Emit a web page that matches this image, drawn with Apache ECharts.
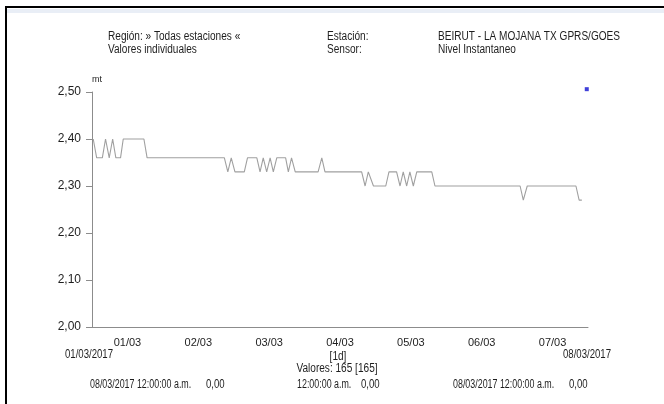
<!DOCTYPE html>
<html>
<head>
<meta charset="utf-8">
<script src="https://cdn.jsdelivr.net/npm/echarts@6/dist/echarts.min.js"></script>
<style>
    html, body {
        margin: 0;
        padding: 0;
        background: #fff;
    }
    .chart-canvas {
        width: 664px;
        height: 404px;
    }
</style>
</head>
<body>
<div id="chart" class="chart-canvas"></div>
<script>
// nivel instantaneo, breakpoints
const times = [
    '2017-03-01 00:25', '2017-03-01 01:35', '2017-03-01 03:30', '2017-03-01 04:35',
    '2017-03-01 05:50', '2017-03-01 07:00', '2017-03-01 08:05', '2017-03-01 09:40',
    '2017-03-01 10:35', '2017-03-01 17:35', '2017-03-01 18:40',
    '2017-03-02 20:50', '2017-03-02 22:00', '2017-03-02 23:10',
    '2017-03-03 00:25', '2017-03-03 03:35', '2017-03-03 04:40', '2017-03-03 07:50',
    '2017-03-03 08:55', '2017-03-03 10:00', '2017-03-03 11:10', '2017-03-03 12:20',
    '2017-03-03 13:25', '2017-03-03 14:35', '2017-03-03 17:35', '2017-03-03 18:30',
    '2017-03-03 19:35', '2017-03-03 20:50',
    '2017-03-04 04:35', '2017-03-04 05:50', '2017-03-04 06:55', '2017-03-04 19:20',
    '2017-03-04 20:30', '2017-03-04 21:35', '2017-03-04 23:20',
    '2017-03-05 03:30', '2017-03-05 04:35', '2017-03-05 07:10', '2017-03-05 08:20',
    '2017-03-05 09:25', '2017-03-05 10:35', '2017-03-05 11:40', '2017-03-05 12:50',
    '2017-03-05 14:00', '2017-03-05 19:05', '2017-03-05 20:10',
    '2017-03-07 01:00', '2017-03-07 02:05', '2017-03-07 03:25', '2017-03-07 19:55',
    '2017-03-07 21:00', '2017-03-07 21:55',
]
const values = [
    2.40, 2.36, 2.36, 2.40,
    2.36, 2.40, 2.36, 2.36,
    2.40, 2.40, 2.36,
    2.36, 2.33, 2.36,
    2.33, 2.33, 2.36, 2.36,
    2.33, 2.36, 2.33, 2.36,
    2.33, 2.36, 2.36, 2.33,
    2.36, 2.33,
    2.33, 2.36, 2.33, 2.33,
    2.30, 2.33, 2.30,
    2.30, 2.33, 2.33, 2.30,
    2.33, 2.30, 2.33, 2.30,
    2.33, 2.33, 2.30,
    2.30, 2.27, 2.30, 2.30,
    2.27, 2.27,
]
const markTime = '2017-03-07 23:35'
const markValue = 2.506

const days = ['01/03', '02/03', '03/03', '04/03', '05/03', '06/03', '07/03']
const yTicks = [2.0, 2.1, 2.2, 2.3, 2.4, 2.5]

const font = "'Liberation Sans', Arial, sans-serif"
const ink = '#1e1e1e'

const chartInstance = echarts.init(document.getElementById('chart'))

// the report font is condensed, squeeze the free texts a bit
const txt = (x, y, text, align, size, squeeze) => ({
    type: 'text',
    x,
    y,
    scaleX: squeeze || 0.84,
    style: {
        text,
        fill: ink,
        font: `${size || 12}px ${font}`,
        textAlign: align || 'left',
        textVerticalAlign: 'middle',
    },
})

chartInstance.setOption({
    animation: false,
    backgroundColor: '#fff',
    grid: {
        left: 92,
        right: 76,
        top: 92,
        bottom: 77,
    },
    xAxis: [
        {
            type: 'time',
            min: '2017-03-01 00:00',
            max: '2017-03-08 00:00',
            show: false,
        },
        {
            type: 'category',
            data: days,
            position: 'bottom',
            boundaryGap: true,
            axisLine: {
                lineStyle: { color: '#8c8c8c', width: 1 },
            },
            axisTick: {
                length: 6,
                lineStyle: { color: '#8c8c8c' },
            },
            axisLabel: {
                color: ink,
                fontFamily: font,
                fontSize: 11,
                margin: 10,
            },
        },
    ],
    yAxis: {
        type: 'value',
        min: 2.0,
        max: 2.5,
        interval: 0.1,
        name: 'mt',
        nameLocation: 'end',
        nameGap: 8,
        nameTextStyle: {
            color: ink,
            fontFamily: font,
            fontSize: 9,
            align: 'left',
        },
        axisLine: {
            show: true,
            lineStyle: { color: '#8c8c8c' },
        },
        axisTick: {
            show: true,
            length: 6,
            lineStyle: { color: '#8c8c8c' },
        },
        splitLine: { show: false },
        axisLabel: {
            color: ink,
            fontFamily: font,
            fontSize: 12,
            margin: 11,
            formatter: (v) => {
                const hit = yTicks.find((t) => Math.abs(t - v) < 1e-6)
                return hit === undefined ? '' : hit.toFixed(2).replace('.', ',')
            },
        },
    },
    series: [
        {
            type: 'line',
            xAxisIndex: 0,
            data: times.map((t, i) => [t, values[i]]),
            showSymbol: false,
            symbol: 'none',
            lineStyle: {
                color: '#a0a0a0',
                width: 1.1,
            },
        },
        {
            type: 'scatter',
            xAxisIndex: 0,
            data: [[markTime, markValue]],
            symbol: 'rect',
            symbolSize: 4,
            clip: false,
            itemStyle: { color: '#1010d0' },
        },
    ],
    graphic: [
        {
            type: 'rect',
            shape: { x: 5, y: 6, width: 662, height: 2 },
            style: { fill: '#000' },
        },
        {
            type: 'rect',
            shape: { x: 5, y: 6, width: 2, height: 400 },
            style: { fill: '#000' },
        },
        {
            type: 'rect',
            shape: { x: 7, y: 9, width: 657, height: 4 },
            style: { fill: '#e9eef6' },
        },
        txt(108, 37, 'Región: » Todas estaciones «'),
        txt(108, 50, 'Valores individuales'),
        txt(327, 37, 'Estación:'),
        txt(327, 50, 'Sensor:'),
        txt(438, 37, 'BEIRUT - LA MOJANA TX GPRS/GOES'),
        txt(438, 50, 'Nivel Instantaneo'),
        txt(89, 355, '01/03/2017', 'center', 12, 0.8),
        txt(587, 355, '08/03/2017', 'center', 12, 0.8),
        txt(338, 357, '[1d]', 'center'),
        txt(337, 369, 'Valores: 165 [165]', 'center'),
        txt(90, 385, '08/03/2017 12:00:00 a.m.', 'left', 12, 0.74),
        txt(206, 385, '0,00', 'left', 12, 0.8),
        txt(297, 385, '12:00:00 a.m.', 'left', 12, 0.74),
        txt(361, 385, '0,00', 'left', 12, 0.8),
        txt(453, 385, '08/03/2017 12:00:00 a.m.', 'left', 12, 0.74),
        txt(569, 385, '0,00', 'left', 12, 0.8),
    ],
})
</script>
</body>
</html>
